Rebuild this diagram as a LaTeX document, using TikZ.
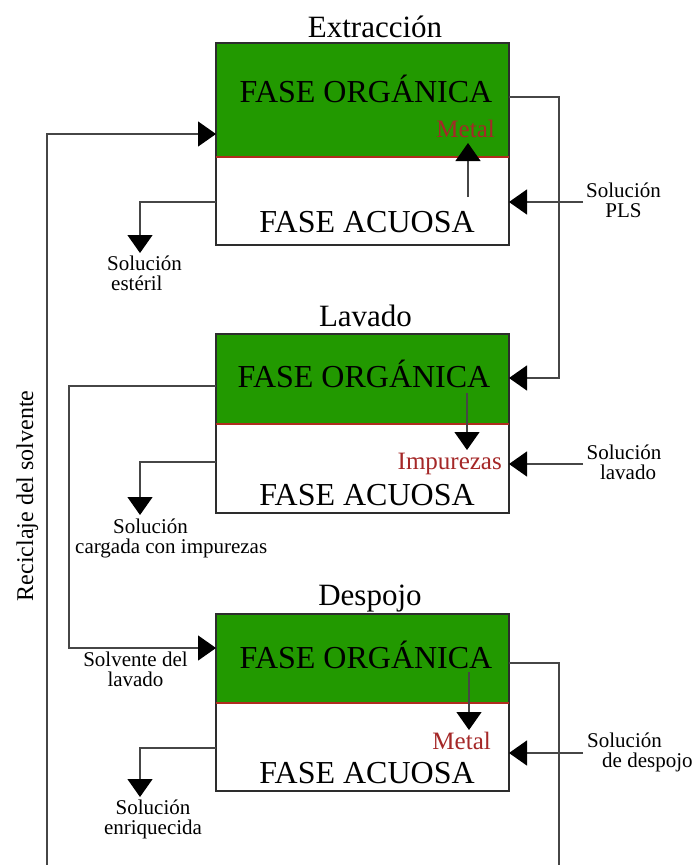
\documentclass[tikz,border=0pt]{standalone}
\usepackage{fontspec}
\setmainfont{Liberation Serif}
\usetikzlibrary{arrows.meta}
\definecolor{orggreen}{RGB}{34,153,0}
\definecolor{divred}{RGB}{175,45,30}
\definecolor{metalred}{RGB}{165,40,40}
\definecolor{linegray}{RGB}{70,70,70}
\definecolor{framegray}{RGB}{45,45,45}

\begin{document}
\begin{tikzpicture}[x=1pt,y=-1pt,
  orgpart/.style={fill=orggreen, minimum width=293pt, inner sep=0pt, outer sep=0pt},
  aqpart/.style={fill=white, minimum width=293pt, inner sep=0pt, outer sep=0pt},
  frame/.style={draw=framegray, line width=1.4pt},
  divider/.style={draw=divred, line width=1.2pt},
  phase/.style={font=\fontsize{32}{36}\selectfont, inner sep=0pt, anchor=base},
  stagetitle/.style={font=\fontsize{31}{36}\selectfont, inner sep=0pt, anchor=base},
  species/.style={font=\fontsize{25}{28}\selectfont, text=metalred, inner sep=0pt, anchor=base east},
  streamlbl/.style={font=\fontsize{21}{19.5}\selectfont, inner sep=0pt},
  flow/.style={draw=linegray, line width=1.3pt},
  feed/.style={flow, -{Triangle[length=18pt,width=25pt,color=black]}}
]
\useasboundingbox (0,0) rectangle (699,865);

% ---------- stage boxes ----------
% Extraccion
\node[orgpart, minimum height=114pt] (org1) at (362.5,100) {};
\node[aqpart, minimum height=88pt] (aq1) at (362.5,201) {};
\draw[frame] (org1.north west) rectangle (aq1.south east);
\draw[divider] (org1.south west) -- (org1.south east);
% Lavado
\node[orgpart, minimum height=90pt] (org2) at (362.5,379) {};
\node[aqpart, minimum height=89pt] (aq2) at (362.5,468.5) {};
\draw[frame] (org2.north west) rectangle (aq2.south east);
\draw[divider] (org2.south west) -- (org2.south east);
% Despojo
\node[orgpart, minimum height=89pt] (org3) at (362.5,658.5) {};
\node[aqpart, minimum height=88pt] (aq3) at (362.5,747) {};
\draw[frame] (org3.north west) rectangle (aq3.south east);
\draw[divider] (org3.south west) -- (org3.south east);

% ---------- titles and phase names ----------
\node[stagetitle] (t1) at (375,37) {Extracción};
\node[stagetitle] (t2) at (365.5,326) {Lavado};
\node[stagetitle] (t3) at (370,605) {Despojo};

\node[phase] (po1) at (366,102) {FASE ORGÁNICA};
\node[phase] (pa1) at (367,232) {FASE ACUOSA};
\node[phase] (po2) at (364,387) {FASE ORGÁNICA};
\node[phase] (pa2) at (367,505) {FASE ACUOSA};
\node[phase] (po3) at (366,668) {FASE ORGÁNICA};
\node[phase] (pa3) at (367,783) {FASE ACUOSA};

\node[species] (sp1) at (495,137) {Metal};
\node[species] (sp2) at (502,469) {Impurezas};
\node[species] (sp3) at (491,749) {Metal};

% ---------- stream labels ----------
\node[streamlbl, anchor=north west, align=left] (lest) at (107,256)
  {Solución\\\hspace*{4pt}estéril};
\node[streamlbl, anchor=north, align=center] (lpls) at (623.5,183)
  {Solución\\PLS};
\node[streamlbl, anchor=north, align=center] (llav) at (624,445)
  {Solución\\\hspace*{8pt}lavado};
\node[streamlbl, anchor=north west, align=left] (limp) at (75,519)
  {\hspace*{38pt}Solución\\cargada con impurezas};
\node[streamlbl, anchor=north, align=center] (lsol) at (135.5,652)
  {Solvente del\\lavado};
\node[streamlbl, anchor=north, align=center] (lenr) at (153,800)
  {Solución\\enriquecida};
\node[streamlbl, anchor=north west, align=left] (ldes) at (587,733)
  {Solución\\\hspace*{15pt}de despojo};
\node[font=\fontsize{24}{28}\selectfont, rotate=90, anchor=base, inner sep=0pt] (lrec) at (33,496)
  {Reciclaje del solvente};

% ---------- connectors ----------
% solvent recycle back to Extraccion
\coordinate (recB) at (47,870);
\coordinate (recT) at (47,134);
\draw[feed] (recB) -- (recT) -- (recT -| org1.west);

% raffinate out of Extraccion
\coordinate (rafC) at (140,202);
\coordinate (rafT) at (140,253);
\draw[feed] (rafC -| aq1.west) -- (rafC) -- (rafT);

% PLS feed
\coordinate (plsS) at (583,202);
\draw[feed] (plsS) -- (plsS -| aq1.east);

% metal into organic
\coordinate (m1a) at (468,197);
\coordinate (m1b) at (468,143);
\draw[feed] (m1a) -- (m1b);

% loaded organic to Lavado
\coordinate (lo1) at (559,97);
\coordinate (lo2) at (559,378);
\draw[feed] (lo1 -| org1.east) -- (lo1) -- (lo2) -- (lo2 -| org2.east);

% impurities out of organic
\coordinate (im1) at (467,393);
\coordinate (im2) at (467,450);
\draw[feed] (im1) -- (im2);

% wash solution feed
\coordinate (lavS) at (583,464);
\draw[feed] (lavS) -- (lavS -| aq2.east);

% loaded wash solution out
\coordinate (cwC) at (140,462);
\coordinate (cwT) at (140,515);
\draw[feed] (cwC -| aq2.west) -- (cwC) -- (cwT);

% washed organic to Despojo
\coordinate (wo1) at (69,386);
\coordinate (wo2) at (69,648);
\draw[feed] (wo1 -| org2.west) -- (wo1) -- (wo2) -- (wo2 -| org3.west);

% metal stripped into aqueous
\coordinate (st1) at (469,672);
\coordinate (st2) at (469,730);
\draw[feed] (st1) -- (st2);

% strip solution feed
\coordinate (desS) at (583,753);
\draw[feed] (desS) -- (desS -| aq3.east);

% rich electrolyte out
\coordinate (enC) at (140,748);
\coordinate (enT) at (140,797);
\draw[feed] (enC -| aq3.west) -- (enC) -- (enT);

% stripped organic leaving Despojo
\coordinate (so1) at (559,663);
\coordinate (so2) at (559,870);
\draw[flow] (so1 -| org3.east) -- (so1) -- (so2);
\end{tikzpicture}
\end{document}
